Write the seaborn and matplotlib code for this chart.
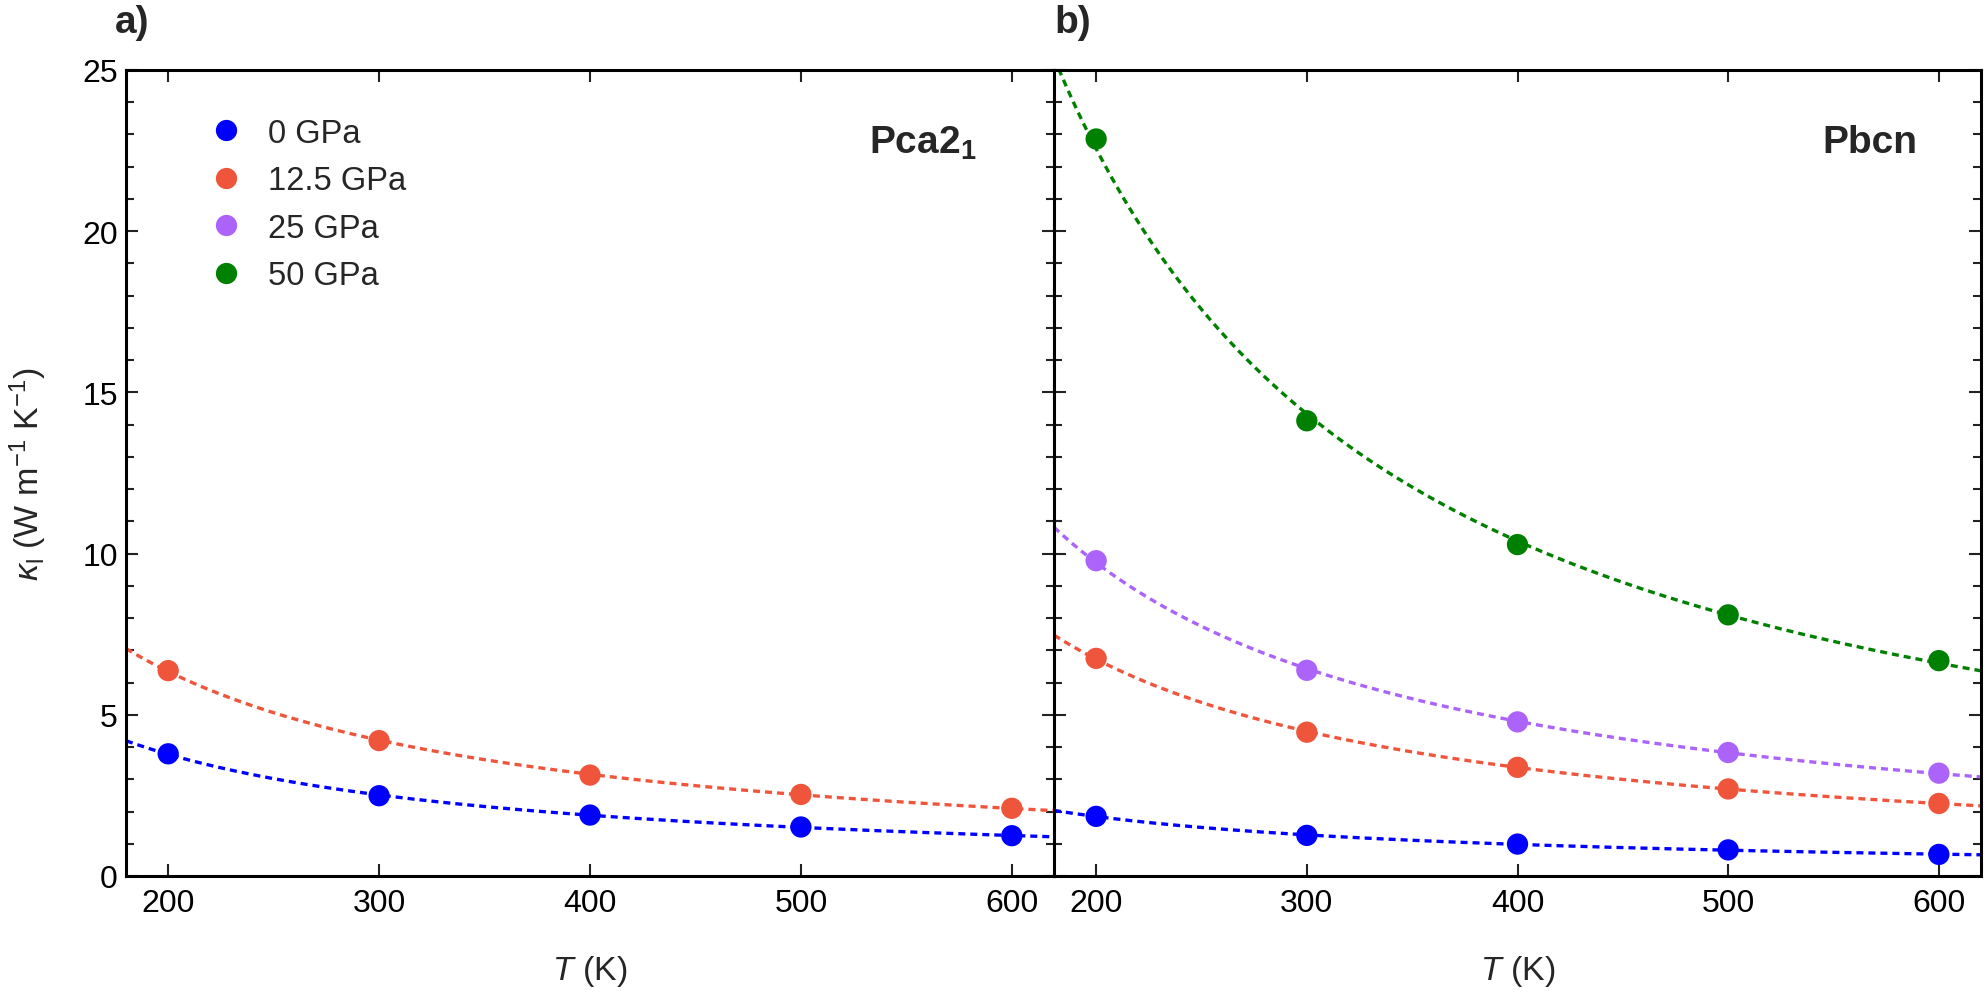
import numpy as np
import pandas as pd
import matplotlib
matplotlib.use('Agg')
import matplotlib.pyplot as plt
from matplotlib.lines import Line2D
from matplotlib.ticker import MultipleLocator
import seaborn as sns

# values
temps = [200, 300, 400, 500, 600]
pressures = ['0 GPa', '12.5 GPa', '25 GPa', '50 GPa']
colors = ['#0000FF', '#EF553B', '#AB63FA', '#008000']

pca21_0 = [3.79, 2.49, 1.89, 1.52, 1.25]
pca21_125 = [6.37, 4.20, 3.13, 2.53, 2.10]

pbcn_0 = [1.85, 1.26, 0.99, 0.81, 0.67]
pbcn_125 = [6.75, 4.46, 3.37, 2.70, 2.25]
pbcn_25 = [9.78, 6.38, 4.78, 3.83, 3.19]
pbcn_50 = [22.86, 14.12, 10.28, 8.10, 6.68]

sns.set_style('ticks')
plt.rcParams['font.family'] = ['Liberation Sans', 'DejaVu Sans']
plt.rcParams['mathtext.fontset'] = 'custom'
plt.rcParams['mathtext.rm'] = 'Liberation Sans'
plt.rcParams['mathtext.it'] = 'Liberation Sans:italic'
plt.rcParams['mathtext.bf'] = 'Liberation Sans:bold'


def make_frame(series):
    rows = []
    for p, vals in series.items():
        for t, v in zip(temps, vals):
            rows.append({'T': t, 'k': v, 'pressure': p})
    return pd.DataFrame(rows)


def fit_frame(series):
    # power-law fit through the points, like the dashed guides in the figure
    grid = np.linspace(180, 620, 300)
    rows = []
    for p, vals in series.items():
        b, a = np.polyfit(np.log(temps), np.log(vals), 1)
        for t, v in zip(grid, np.exp(a) * grid ** b):
            rows.append({'T': t, 'k': v, 'pressure': p})
    return pd.DataFrame(rows)


def style_axis(ax):
    ax.set_xlim(180, 620)
    ax.set_ylim(0, 25)
    ax.set_xticks(temps)
    ax.set_yticks([0, 5, 10, 15, 20, 25])
    ax.yaxis.set_minor_locator(MultipleLocator(1))
    ax.tick_params(which='both', direction='in', top=True, right=True,
                   bottom=True, left=True, width=1.5, colors='#222222',
                   labelcolor='black', labelsize=23)
    ax.tick_params(which='major', length=8.6)
    ax.tick_params(which='minor', length=6)
    ax.tick_params(axis='x', which='minor', top=False, bottom=False)
    ax.tick_params(axis='x', pad=9)
    ax.tick_params(axis='y', pad=6)
    for s in ax.spines.values():
        s.set_linewidth(2.2)
        s.set_color('black')
    ax.set_xlabel(r'$T$ (K)', fontsize=24.5)
    ax.xaxis.set_label_coords(0.5, -0.096)


W, H = 1985, 995
fig = plt.figure(figsize=(W / 100, H / 100), dpi=100)
ax_a = fig.add_axes([126 / W, 118 / H, 928 / W, 806 / H])
ax_b = fig.add_axes([1054 / W, 118 / H, 927 / W, 806 / H])

panels = [
    (ax_a, {'0 GPa': pca21_0, '12.5 GPa': pca21_125}),
    (ax_b, {'0 GPa': pbcn_0, '12.5 GPa': pbcn_125, '25 GPa': pbcn_25, '50 GPa': pbcn_50}),
]
palette = dict(zip(pressures, colors))

for ax, series in panels:
    fits = fit_frame(series)
    pts = make_frame(series)
    sns.lineplot(data=fits, x='T', y='k', hue='pressure', palette=palette,
                 linewidth=2.4, legend=False, ax=ax, zorder=2)
    for line in ax.get_lines():
        line.set_dashes((2.1, 1.5))
    sns.scatterplot(data=pts, x='T', y='k', hue='pressure', palette=palette,
                    s=235, linewidth=0, legend=False, ax=ax, zorder=3)
    style_axis(ax)

ax_a.set_ylabel(r'$\kappa_\mathrm{l}$ (W m$^{-1}$ K$^{-1}$)', fontsize=24.5)
ax_a.yaxis.set_label_coords(-0.083, 0.5)
ax_b.set_ylabel('')
ax_b.tick_params(labelleft=False)

handles = [Line2D([], [], marker='o', linestyle='none', markersize=15.3,
                  markeredgewidth=0, color=c) for c in colors]
ax_a.legend(handles, pressures, loc='upper left', bbox_to_anchor=(0.0905, 0.941),
            frameon=False, borderaxespad=0, borderpad=0, handlelength=1.0,
            handletextpad=0.78, labelspacing=0.51, fontsize=23.5)

ax_a.text(0.917, 0.898, r'Pca2$_\mathbf{1}$', transform=ax_a.transAxes,
          ha='right', va='baseline', fontsize=28, fontweight='bold')
ax_b.text(0.931, 0.898, 'Pbcn', transform=ax_b.transAxes,
          ha='right', va='baseline', fontsize=28, fontweight='bold')

fig.text(115 / W, 1 - 33 / H, 'a)', ha='left', va='baseline', fontsize=28, fontweight='bold')
fig.text(1054 / W, 1 - 33 / H, 'b)', ha='left', va='baseline', fontsize=28, fontweight='bold')

fig.savefig('out.png', dpi=100)
